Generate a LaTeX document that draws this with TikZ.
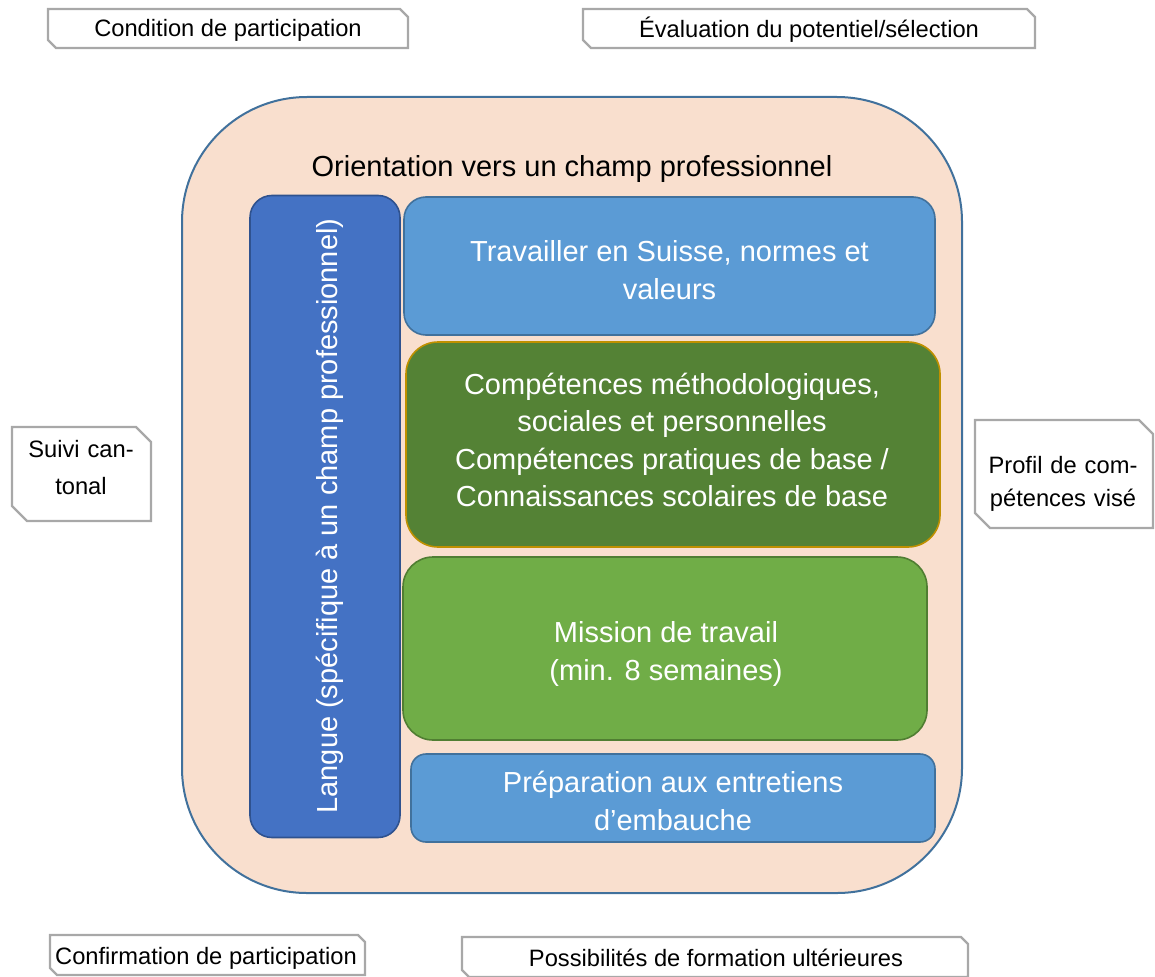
\documentclass[tikz,border=0pt]{standalone}
\usepackage{fontspec}
\setmainfont{Liberation Sans}
\definecolor{framegray}{HTML}{A8A8A8}
\definecolor{peach}{HTML}{F9DFCE}
\definecolor{bordblue}{HTML}{41719C}
\definecolor{langfill}{HTML}{4472C4}
\definecolor{langbord}{HTML}{2F528F}
\definecolor{lightblue}{HTML}{5B9BD5}
\definecolor{darkgreen}{HTML}{548235}
\definecolor{goldbord}{HTML}{BF9000}
\definecolor{midgreen}{HTML}{70AD47}
\definecolor{midgreenbord}{HTML}{507E32}
\tikzset{
  bigtext/.style={font=\fontsize{29}{37.5}\selectfont},
  smalltext/.style={font=\fontsize{23.7}{33}\selectfont, text=black, align=center},
  snipframe/.style={draw=framegray, line width=2.2pt, fill=white, line join=miter},
  innerbox/.style={rectangle, line width=1.6pt, inner sep=0pt},
  whitetext/.style={bigtext, text=white, align=center, inner sep=0pt},
}
\begin{document}
\begin{tikzpicture}[x=1pt,y=-1pt]
\useasboundingbox (0,0) rectangle (1155,976);

% snipped-corner frames
\draw[snipframe] (48,9) -- (400,9) -- (408,17) -- (408,48) -- (56,48) -- (48,40) -- cycle;
\node[smalltext] (cond) at (228,30) {Condition de participation};

\draw[snipframe] (583,9) -- (1027,9) -- (1035,17) -- (1035,48) -- (591,48) -- (583,40) -- cycle;
\node[smalltext] (eval) at (809,30) {Évaluation du potentiel/sélection};

\draw[snipframe] (12,427) -- (136,427) -- (151,442) -- (151,521) -- (27,521) -- (12,506) -- cycle;
\node[smalltext, font=\fontsize{23.7}{37}\selectfont, text width=140pt] (suivi) at (81,468) {Suivi can-\\tonal};

\draw[snipframe] (975,420) -- (1139,420) -- (1153,434) -- (1153,528) -- (990,528) -- (975,513) -- cycle;
\node[smalltext, text width=170pt] (profil) at (1063,484) {Profil de com-\\pétences visé};

\draw[snipframe] (50,935) -- (358,935) -- (365,942) -- (365,975) -- (57,975) -- (50,968) -- cycle;
\node[smalltext] (confirm) at (206,958) {Confirmation de participation};

\draw[snipframe] (462,937) -- (961,937) -- (968,944) -- (968,977) -- (469,977) -- (462,970) -- cycle;
\node[smalltext] (possib) at (716,958) {Possibilités de formation ultérieures};

% big container
\node[rectangle, draw=bordblue, fill=peach, line width=2pt, rounded corners=125pt,
      minimum width=780pt, minimum height=796pt] (orient) at (572,495) {};
\node[bigtext, text=black] (title) at (572,169) {Orientation vers un champ professionnel};

% inner boxes
\node[innerbox, draw=langbord, fill=langfill, rounded corners=22pt,
      minimum width=150pt, minimum height=642pt] (langue) at (325,516.5) {};
\node[whitetext, rotate=90] (languetext) at (330,516) {Langue (spécifique à un champ professionnel)};

\node[innerbox, draw=bordblue, fill=lightblue, rounded corners=22pt,
      minimum width=531pt, minimum height=138pt] (travail) at (669.5,266) {};
\node[whitetext] (travailtext) at (669.5,270) {Travailler en Suisse, normes et\\valeurs};

\node[innerbox, draw=goldbord, fill=darkgreen, rounded corners=32pt,
      minimum width=534pt, minimum height=205pt] (compet) at (673,444.5) {};
\node[whitetext] (compettext) at (672,440)
      {Compétences méthodologiques,\\sociales et personnelles\\Compétences pratiques de base /\\Connaissances scolaires de base};

\node[innerbox, draw=midgreenbord, fill=midgreen, rounded corners=30pt,
      minimum width=524pt, minimum height=183pt] (mission) at (665,648.5) {};
\node[whitetext] (missiontext) at (666,654) {Mission de travail\\(min. 8 semaines)};

\node[innerbox, draw=bordblue, fill=lightblue, rounded corners=15pt,
      minimum width=524pt, minimum height=88pt] (prep) at (673,798) {};
\node[whitetext] (preptext) at (673,801) {Préparation aux entretiens\\d’embauche};
\end{tikzpicture}
\end{document}
